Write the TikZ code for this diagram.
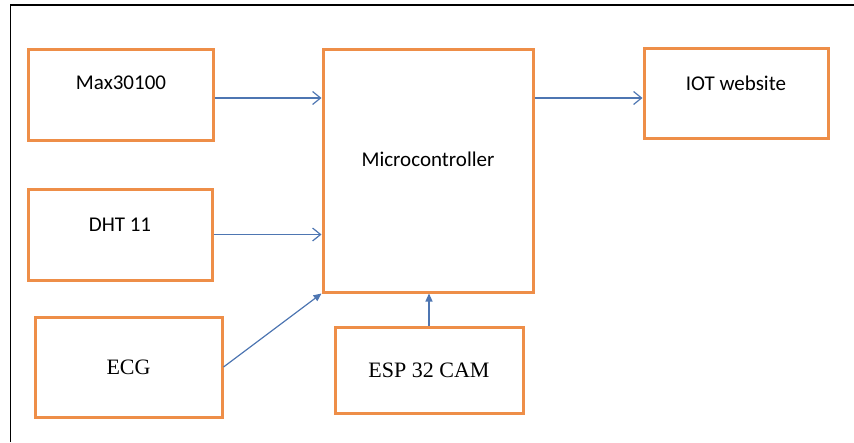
\documentclass[tikz,border=0pt]{standalone}
\usepackage{fontspec}
\usepackage{tikz}
\usepackage{xcolor}
\usetikzlibrary{arrows.meta}
\newfontfamily\calibrifont{Carlito}
\newfontfamily\timesfont{Liberation Serif}
\definecolor{boxline}{RGB}{238,142,72}
\definecolor{wire}{RGB}{78,118,178}

\begin{document}
\begin{tikzpicture}[x=1pt, y=-1pt,
            block/.style = {draw=boxline, line width=3pt, minimum width=#1},
            block/.default = 185pt,
            sanslabel/.style = {font=\calibrifont\fontsize{21}{24}\selectfont, inner sep=0pt},
            seriflabel/.style = {font=\timesfont\fontsize{22}{25}\selectfont, inner sep=0pt},
            wireline/.style = {draw=wire, line width=1.2pt},
            opentip/.style = {wireline, -{Straight Barb[length=8pt, width=13pt]}},
            filledtip/.style = {wireline, -{Triangle[length=8pt, width=7pt]}}
            ]
            \useasboundingbox (0,0) rectangle (854,442);
            \draw[black, line width=1.6pt] (10.5,442) -- (10.5,5) -- (854,5);

            % boxes
            \node[block, minimum height=91pt] (max) at (120.5,94.5) {};
            \node[block=184pt, minimum height=91pt] (dht) at (120,234.5) {};
            \node[block=187pt, minimum height=100pt] (ecg) at (128.5,367) {};
            \node[block=210pt, minimum height=243pt] (mc) at (428,170.5) {};
            \node[block=188pt, minimum height=86pt] (esp) at (429,370) {};
            \node[block=184pt, minimum height=90pt] (iot) at (736,93) {};

            % texts
            \node[sanslabel] (maxtext) at (121,83) {Max30100};
            \node[sanslabel] (dhttext) at (120,225) {DHT 11};
            \node[sanslabel] (mctext) at (428,159) {Microcontroller};
            \node[sanslabel] (iottext) at (736,83) {IOT website};
            \node[seriflabel] (ecgtext) at (ecg) {ECG};
            \node[seriflabel] (esptext) at (esp) {ESP 32 CAM};

            % connections
            \draw[opentip] ([yshift=-3.5pt]max.east) -- ([yshift=-3.5pt]max.east -| mc.west);
            \draw[opentip] (dht.east) -- (dht.east -| mc.west);
            \draw[opentip] ([yshift=-5pt]iot.west -| mc.east) -- ([yshift=-5pt]iot.west);
            \draw[filledtip] (ecg.east) -- (mc.south west);
            \draw[filledtip] (esp.north) -- (esp.north |- mc.south);
        \end{tikzpicture}
\end{document}
